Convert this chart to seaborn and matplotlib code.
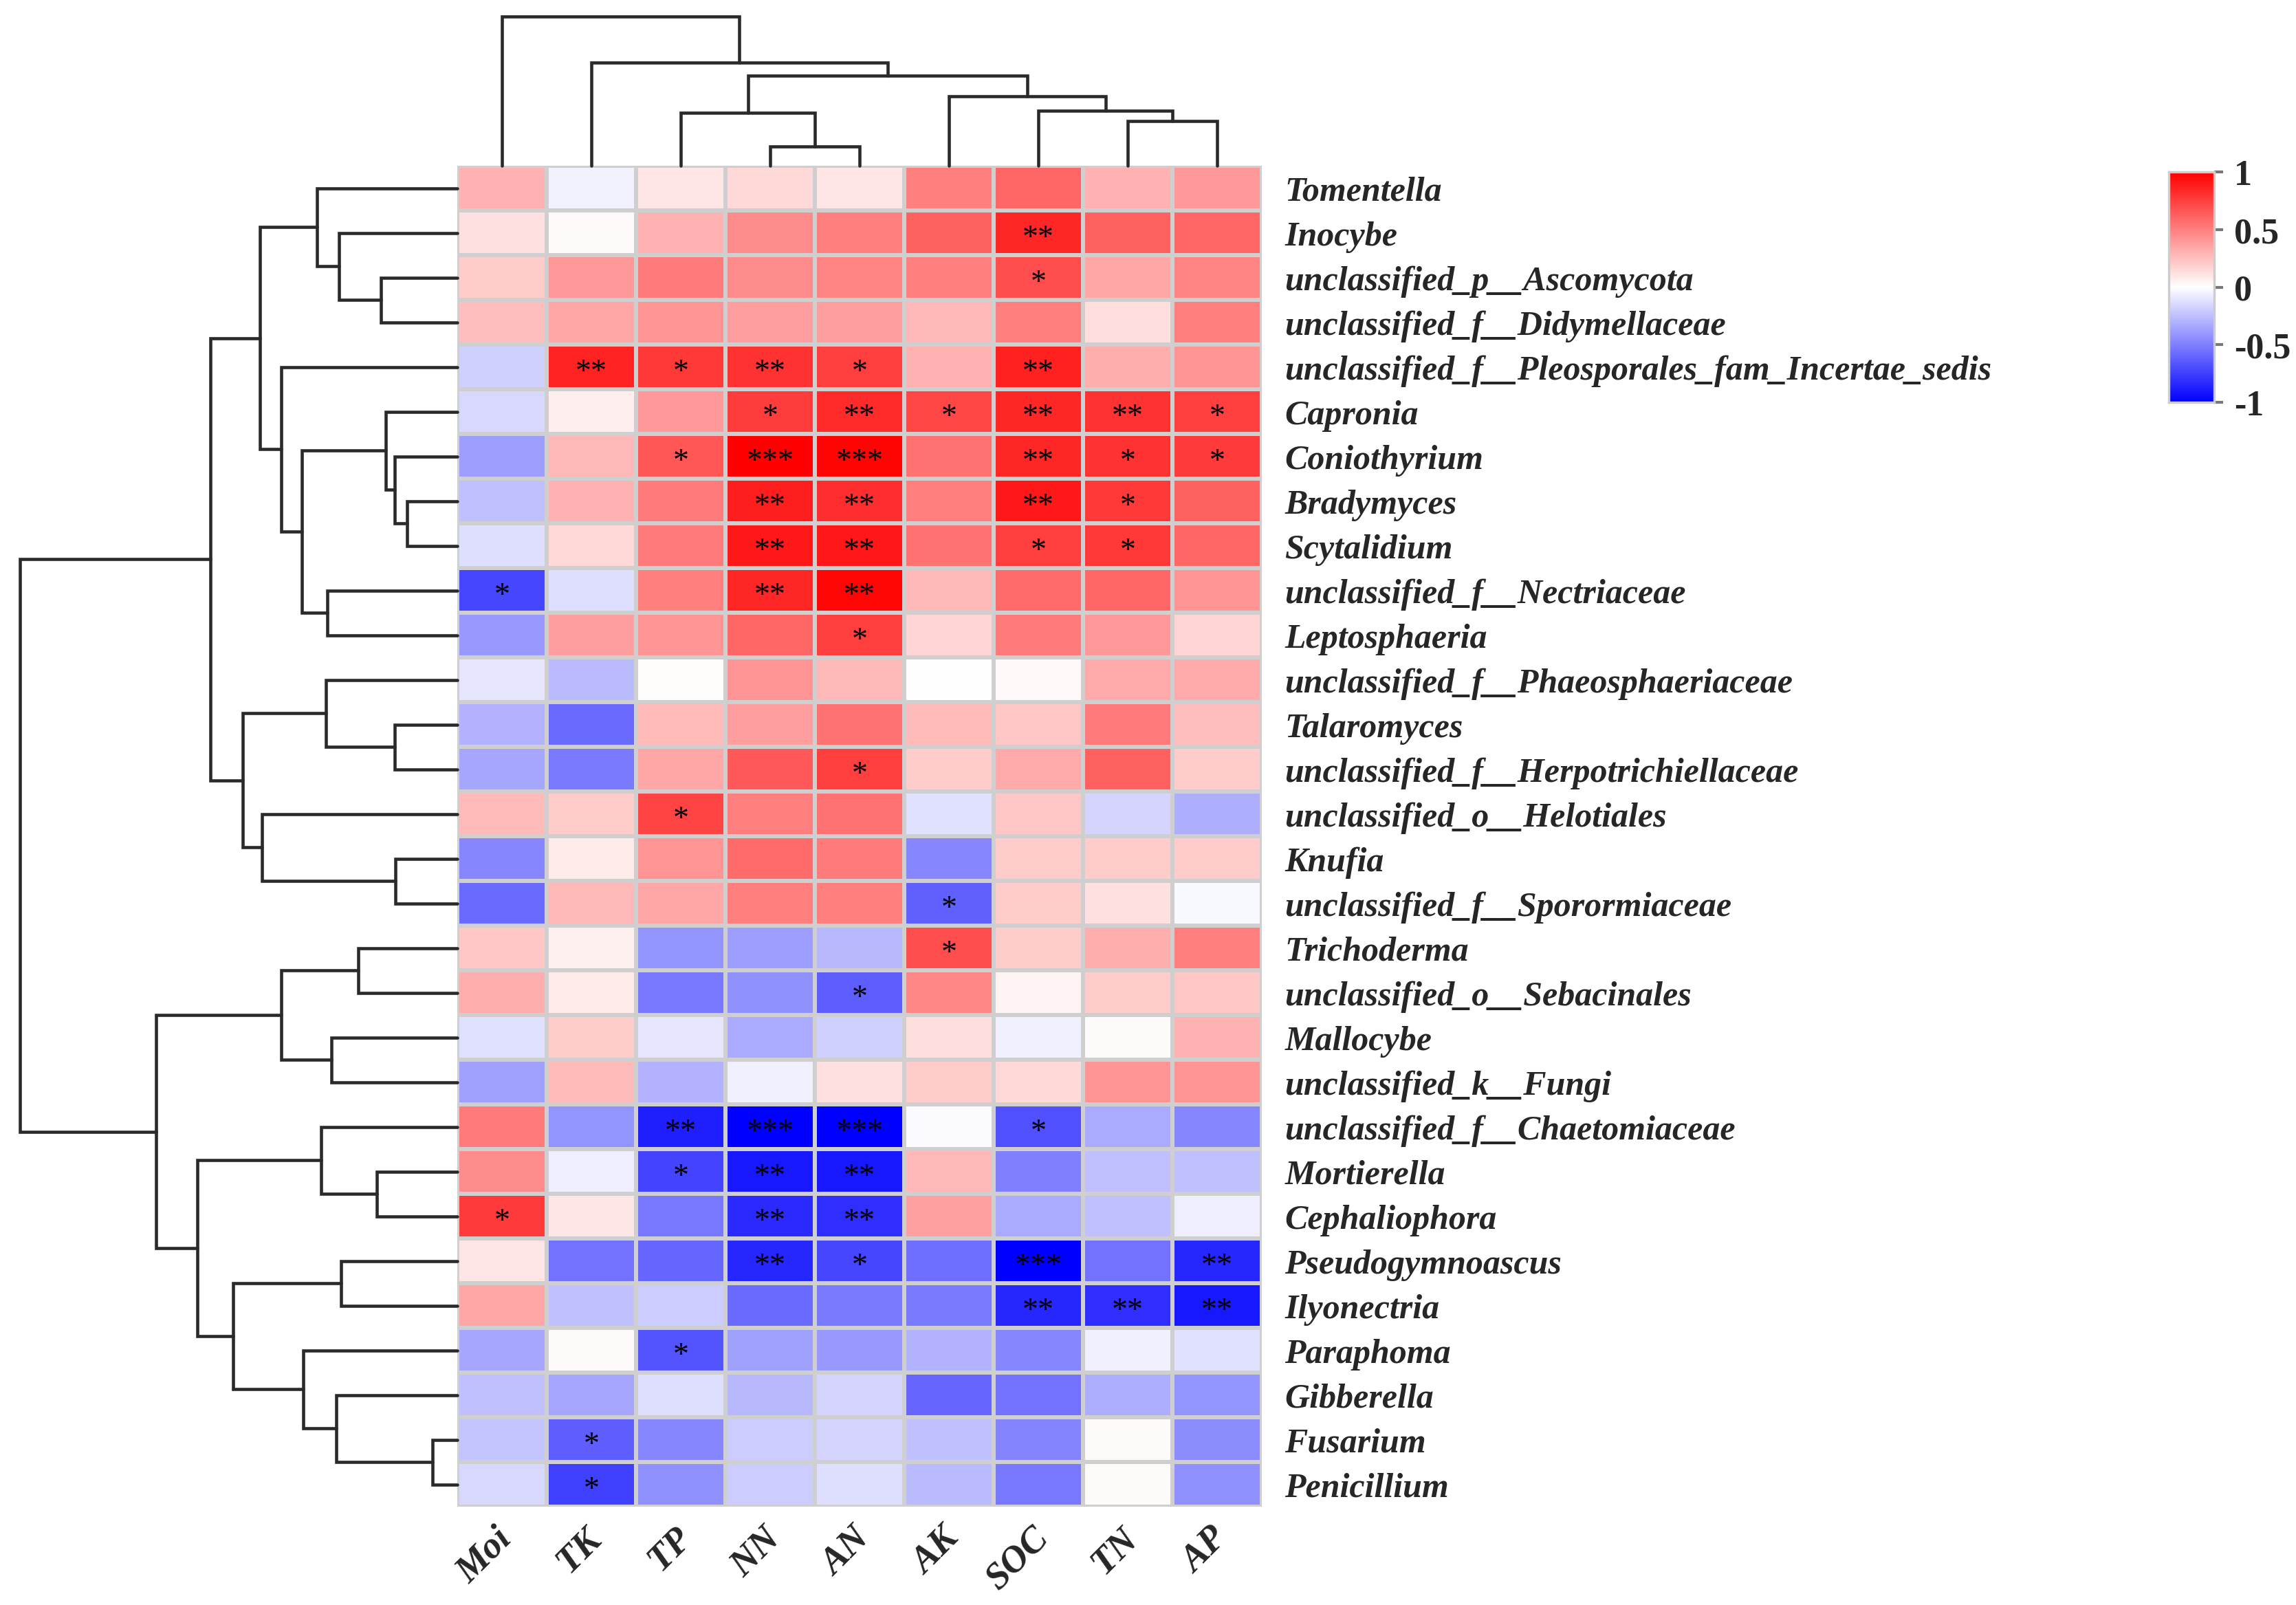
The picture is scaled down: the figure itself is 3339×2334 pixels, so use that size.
import numpy as np
import pandas as pd
import matplotlib
matplotlib.use('Agg')
import matplotlib.pyplot as plt
import matplotlib.transforms as mtransforms
import seaborn as sns

# genres (ordre des lignes, du haut vers le bas) et facteurs du sol
genera = ['Tomentella', 'Inocybe', 'unclassified_p__Ascomycota',
          'unclassified_f__Didymellaceae',
          'unclassified_f__Pleosporales_fam_Incertae_sedis', 'Capronia',
          'Coniothyrium', 'Bradymyces', 'Scytalidium',
          'unclassified_f__Nectriaceae', 'Leptosphaeria',
          'unclassified_f__Phaeosphaeriaceae', 'Talaromyces',
          'unclassified_f__Herpotrichiellaceae', 'unclassified_o__Helotiales',
          'Knufia', 'unclassified_f__Sporormiaceae', 'Trichoderma',
          'unclassified_o__Sebacinales', 'Mallocybe', 'unclassified_k__Fungi',
          'unclassified_f__Chaetomiaceae', 'Mortierella', 'Cephaliophora',
          'Pseudogymnoascus', 'Ilyonectria', 'Paraphoma', 'Gibberella',
          'Fusarium', 'Penicillium']
factors = ['Moi', 'TK', 'TP', 'NN', 'AN', 'AK', 'SOC', 'TN', 'AP']

# coefficients de correlation
corr_values = [
    [0.30, -0.05, 0.10, 0.15, 0.10, 0.50, 0.60, 0.30, 0.40],
    [0.12, 0.02, 0.30, 0.45, 0.50, 0.62, 0.85, 0.62, 0.60],
    [0.20, 0.40, 0.52, 0.45, 0.48, 0.50, 0.70, 0.35, 0.48],
    [0.25, 0.35, 0.42, 0.38, 0.38, 0.28, 0.50, 0.13, 0.50],
    [-0.18, 0.86, 0.78, 0.80, 0.75, 0.30, 0.87, 0.32, 0.42],
    [-0.15, 0.07, 0.40, 0.76, 0.83, 0.72, 0.85, 0.80, 0.75],
    [-0.38, 0.28, 0.66, 1.00, 0.98, 0.55, 0.85, 0.80, 0.77],
    [-0.25, 0.30, 0.52, 0.88, 0.82, 0.50, 0.90, 0.78, 0.62],
    [-0.13, 0.15, 0.52, 0.90, 0.90, 0.55, 0.75, 0.78, 0.60],
    [-0.72, -0.13, 0.50, 0.85, 0.97, 0.28, 0.58, 0.60, 0.42],
    [-0.40, 0.38, 0.42, 0.60, 0.75, 0.17, 0.52, 0.40, 0.17],
    [-0.10, -0.27, 0.01, 0.42, 0.28, 0.00, 0.03, 0.33, 0.33],
    [-0.30, -0.58, 0.27, 0.38, 0.55, 0.27, 0.22, 0.52, 0.25],
    [-0.35, -0.52, 0.35, 0.65, 0.75, 0.20, 0.33, 0.62, 0.20],
    [0.27, 0.20, 0.73, 0.50, 0.55, -0.12, 0.22, -0.17, -0.32],
    [-0.47, 0.08, 0.42, 0.58, 0.52, -0.47, 0.20, 0.20, 0.20],
    [-0.58, 0.28, 0.35, 0.50, 0.50, -0.62, 0.20, 0.12, -0.03],
    [0.22, 0.06, -0.42, -0.38, -0.28, 0.70, 0.20, 0.32, 0.50],
    [0.32, 0.08, -0.53, -0.43, -0.63, 0.47, 0.04, 0.20, 0.22],
    [-0.12, 0.20, -0.10, -0.33, -0.18, 0.13, -0.06, 0.02, 0.30],
    [-0.37, 0.27, -0.30, -0.06, 0.12, 0.20, 0.15, 0.42, 0.42],
    [0.52, -0.42, -0.88, -1.00, -1.00, -0.02, -0.68, -0.33, -0.47],
    [0.45, -0.07, -0.73, -0.90, -0.90, 0.28, -0.50, -0.25, -0.25],
    [0.77, 0.10, -0.53, -0.83, -0.82, 0.37, -0.33, -0.25, -0.07],
    [0.10, -0.55, -0.60, -0.85, -0.72, -0.57, -1.00, -0.55, -0.85],
    [0.35, -0.25, -0.20, -0.58, -0.52, -0.52, -0.85, -0.82, -0.90],
    [-0.35, 0.02, -0.67, -0.37, -0.40, -0.30, -0.47, -0.06, -0.12],
    [-0.25, -0.35, -0.13, -0.28, -0.17, -0.60, -0.55, -0.32, -0.42],
    [-0.23, -0.63, -0.47, -0.20, -0.17, -0.25, -0.48, 0.02, -0.45],
    [-0.15, -0.75, -0.43, -0.20, -0.13, -0.27, -0.53, 0.02, -0.43],
]

# niveaux de significativite
stars = [
    ['', '', '', '', '', '', '', '', ''],
    ['', '', '', '', '', '', '**', '', ''],
    ['', '', '', '', '', '', '*', '', ''],
    ['', '', '', '', '', '', '', '', ''],
    ['', '**', '*', '**', '*', '', '**', '', ''],
    ['', '', '', '*', '**', '*', '**', '**', '*'],
    ['', '', '*', '***', '***', '', '**', '*', '*'],
    ['', '', '', '**', '**', '', '**', '*', ''],
    ['', '', '', '**', '**', '', '*', '*', ''],
    ['*', '', '', '**', '**', '', '', '', ''],
    ['', '', '', '', '*', '', '', '', ''],
    ['', '', '', '', '', '', '', '', ''],
    ['', '', '', '', '', '', '', '', ''],
    ['', '', '', '', '*', '', '', '', ''],
    ['', '', '*', '', '', '', '', '', ''],
    ['', '', '', '', '', '', '', '', ''],
    ['', '', '', '', '', '*', '', '', ''],
    ['', '', '', '', '', '*', '', '', ''],
    ['', '', '', '', '*', '', '', '', ''],
    ['', '', '', '', '', '', '', '', ''],
    ['', '', '', '', '', '', '', '', ''],
    ['', '', '**', '***', '***', '', '*', '', ''],
    ['', '', '*', '**', '**', '', '', '', ''],
    ['*', '', '', '**', '**', '', '', '', ''],
    ['', '', '', '**', '*', '', '***', '', '**'],
    ['', '', '', '', '', '', '**', '**', '**'],
    ['', '', '*', '', '', '', '', '', ''],
    ['', '', '', '', '', '', '', '', ''],
    ['', '*', '', '', '', '', '', '', ''],
    ['', '*', '', '', '', '', '', '', ''],
]

# arbres de classification (format linkage : noeud a, noeud b, hauteur)
row_merges = [
    (2, 3, 0.174), (1, 30, 0.270), (0, 31, 0.320), (7, 8, 0.115),
    (6, 33, 0.143), (5, 34, 0.163), (9, 10, 0.297), (35, 36, 0.355),
    (4, 37, 0.403), (32, 38, 0.451), (12, 13, 0.143), (11, 40, 0.300),
    (15, 16, 0.141), (14, 42, 0.446), (41, 43, 0.491), (39, 44, 0.564),
    (17, 18, 0.226), (19, 20, 0.287), (46, 47, 0.403), (22, 23, 0.184),
    (21, 49, 0.312), (28, 29, 0.057), (27, 51, 0.276), (26, 52, 0.352),
    (24, 25, 0.265), (54, 53, 0.512), (50, 55, 0.595), (48, 56, 0.689),
    (45, 57, 1.000),
]
col_merges = [
    (3, 4, 0.128), (2, 9, 0.355), (7, 8, 0.298), (6, 11, 0.370),
    (5, 12, 0.466), (10, 13, 0.605), (1, 14, 0.691), (0, 15, 1.000),
]

sns.set_style('white')
plt.rcParams['font.family'] = ['Liberation Serif', 'DejaVu Serif']

corr_df = pd.DataFrame(corr_values, index=genera, columns=factors)
stars_df = pd.DataFrame(stars, index=genera, columns=factors)


def draw_dendro(ax, merges, n, orient):
    pos = {i: i + 0.5 for i in range(n)}
    hgt = {i: 0.0 for i in range(n)}
    for k, (a, b, h) in enumerate(merges):
        pa, pb = pos[a], pos[b]
        if orient == 'left':
            xs, ys = [hgt[a], h, h, hgt[b]], [pa, pa, pb, pb]
        else:
            xs, ys = [pa, pa, pb, pb], [hgt[a], h, h, hgt[b]]
        ax.plot(xs, ys, color='#2a2a2a', lw=1.1, clip_on=False,
                solid_joinstyle='miter')
        pos[n + k] = (pa + pb) / 2
        hgt[n + k] = h
    ax.set_axis_off()


fig = plt.figure(figsize=(11.13, 7.783), dpi=300)
W, H = 3339, 2335
left, right, top, bottom = 665, 1835, 242, 2192
ax_heat = fig.add_axes([left / W, 1 - bottom / H, (right - left) / W, (bottom - top) / H])
ax_row = fig.add_axes([29 / W, 1 - bottom / H, (left - 29) / W, (bottom - top) / H])
ax_col = fig.add_axes([left / W, 1 - top / H, (right - left) / W, (top - 25) / H])
ax_cbar = fig.add_axes([3154 / W, 1 - 586 / H, 66 / W, 335 / H])

sns.heatmap(corr_df, ax=ax_heat, cmap='bwr', vmin=-1, vmax=1,
            linewidths=1.0, linecolor='#cfcfcf', annot=stars_df, fmt='',
            annot_kws={'color': 'black', 'fontsize': 11},
            cbar_ax=ax_cbar, cbar_kws={'ticks': [1, 0.5, 0, -0.5, -1]})

# les asterisques sont un peu hauts : on les descend legerement
down = mtransforms.ScaledTranslation(0, -2 / 72, fig.dpi_scale_trans)
for t in ax_heat.texts:
    t.set_transform(t.get_transform() + down)

ax_heat.yaxis.tick_right()
ax_heat.set_yticklabels(genera, rotation=0, fontsize=12, fontstyle='italic',
                        fontweight='bold')
ax_heat.set_xticklabels(factors, rotation=45, ha='right', fontsize=13,
                        fontstyle='italic', fontweight='bold')
ax_heat.tick_params(axis='y', length=0, pad=8)
ax_heat.tick_params(axis='x', length=0, pad=5)
shift = mtransforms.ScaledTranslation(6 / 72, 0, fig.dpi_scale_trans)
for lab in ax_heat.get_xticklabels():
    lab.set_transform(lab.get_transform() + shift)
ax_heat.set_xlabel('')
ax_heat.set_ylabel('')

ax_cbar.set_yticklabels(['1', '0.5', '0', '-0.5', '-1'], fontsize=12.5,
                        fontweight='bold')
ax_cbar.tick_params(length=3, width=1, color='#777777', pad=4)
for sp in ax_cbar.spines.values():
    sp.set_visible(True)
    sp.set_color('#cccccc')

draw_dendro(ax_row, row_merges, len(genera), 'left')
ax_row.set_xlim(1.0, 0.0)
ax_row.set_ylim(len(genera), 0)

draw_dendro(ax_col, col_merges, len(factors), 'top')
ax_col.set_xlim(0, len(factors))
ax_col.set_ylim(0, 1.0)

fig.savefig('out.png', dpi=300)
